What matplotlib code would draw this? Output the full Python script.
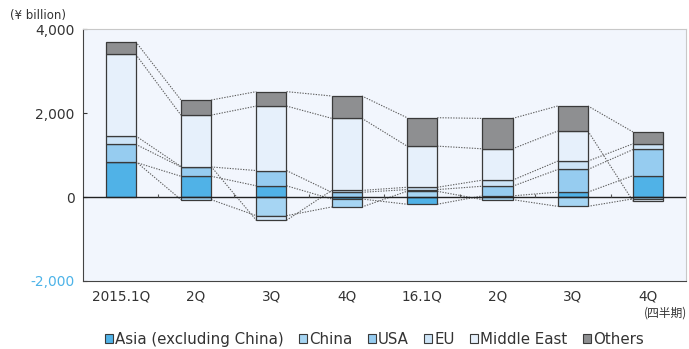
import matplotlib.pyplot as plt
import numpy as np
from matplotlib.patches import Patch

quarters = ['2015.1Q', '2Q', '3Q', '4Q', '16.1Q', '2Q', '3Q', '4Q']
regions = ['Asia (excluding China)', 'China', 'USA', 'EU', 'Middle East', 'Others']

asia = [830, 498, 270, -45, -170, 30, 120, 514]
china = [20, -60, -443, -190, 140, -60, -220, -40]
usa = [410, 222, 364, 115, 40, 230, 540, 623]
eu = [200, 10, -110, 45, 55, 145, 200, 137]
middle_east = [1945, 1227, 1539, 1720, 982, 748, 717, -60]
others = [300, 360, 344, 533, 678, 725, 598, 279]

colors = ['#50b2e7', '#a6d5f3', '#96ccf0', '#cde4f7', '#e6f0fb', '#8e8f91']
series = [asia, china, usa, eu, middle_east, others]

fig = plt.figure(figsize=(6.89, 3.49), dpi=100)
ax = fig.add_axes([0.1205, 0.195, 0.875, 0.7205])
ax.set_facecolor('#f2f6fd')

x = np.arange(len(quarters))
width = 0.4
pos = np.zeros(len(x))
neg = np.zeros(len(x))
ends = []
for vals, c in zip(series, colors):
    vals = np.array(vals, dtype=float)
    bottom = np.where(vals >= 0, pos, neg)
    ax.bar(x, vals, width, bottom=bottom, color=c, edgecolor='#3a3a3a',
           linewidth=0.9, zorder=3)
    end = bottom + vals
    ends.append(end)
    pos = np.where(vals >= 0, end, pos)
    neg = np.where(vals < 0, end, neg)

# series lines joining segment ends of neighbouring bars
for end in ends:
    for i in range(len(x) - 1):
        ax.plot([x[i] + width / 2, x[i + 1] - width / 2], [end[i], end[i + 1]],
                ls=(0, (1.2, 1.2)), color='#606060', lw=0.8, zorder=2)

ax.axhline(0, color='#222222', lw=1.0, zorder=4)
ax.vlines(x[:-1] + 0.5, 0, 70, color='#555555', lw=0.8, zorder=4)

ax.set_xlim(-0.5, 7.5)
ax.set_ylim(-2000, 4000)
ax.set_yticks([-2000, 0, 2000, 4000])
ax.set_yticklabels(['-2,000', '0', '2,000', '4,000'], fontsize=10, color='#333333')
ax.get_yticklabels()[0].set_color('#4db3e8')
ax.tick_params(axis='y', direction='in', length=3, color='#333333', pad=6)
ax.set_xticks(x)
ax.set_xticklabels(quarters, fontsize=9.8, color='#333333')
ax.tick_params(axis='x', length=0, pad=6.5)

for side in ['top', 'right']:
    ax.spines[side].set_color('#c8c8c8')
for side in ['left', 'bottom']:
    ax.spines[side].set_color('#444444')

fig.text(0.014, 0.955, '(¥ billion)', fontsize=8.5, color='#333333', va='center')
fig.text(0.998, 0.103, '(四半期)', fontsize=8.5, color='#333333', ha='right',
         va='center', family=['Noto Sans CJK JP', 'DejaVu Sans'])

handles = [Patch(facecolor=c, edgecolor='#3a3a3a', linewidth=0.8) for c in colors]
fig.legend(handles, regions, loc='center', bbox_to_anchor=(0.543, 0.028), ncol=6,
           frameon=False, fontsize=10.8, handlelength=0.55, handleheight=0.55,
           handletextpad=0.15, columnspacing=1.0, labelcolor='#333333')

fig.savefig('out.png', dpi=100)
